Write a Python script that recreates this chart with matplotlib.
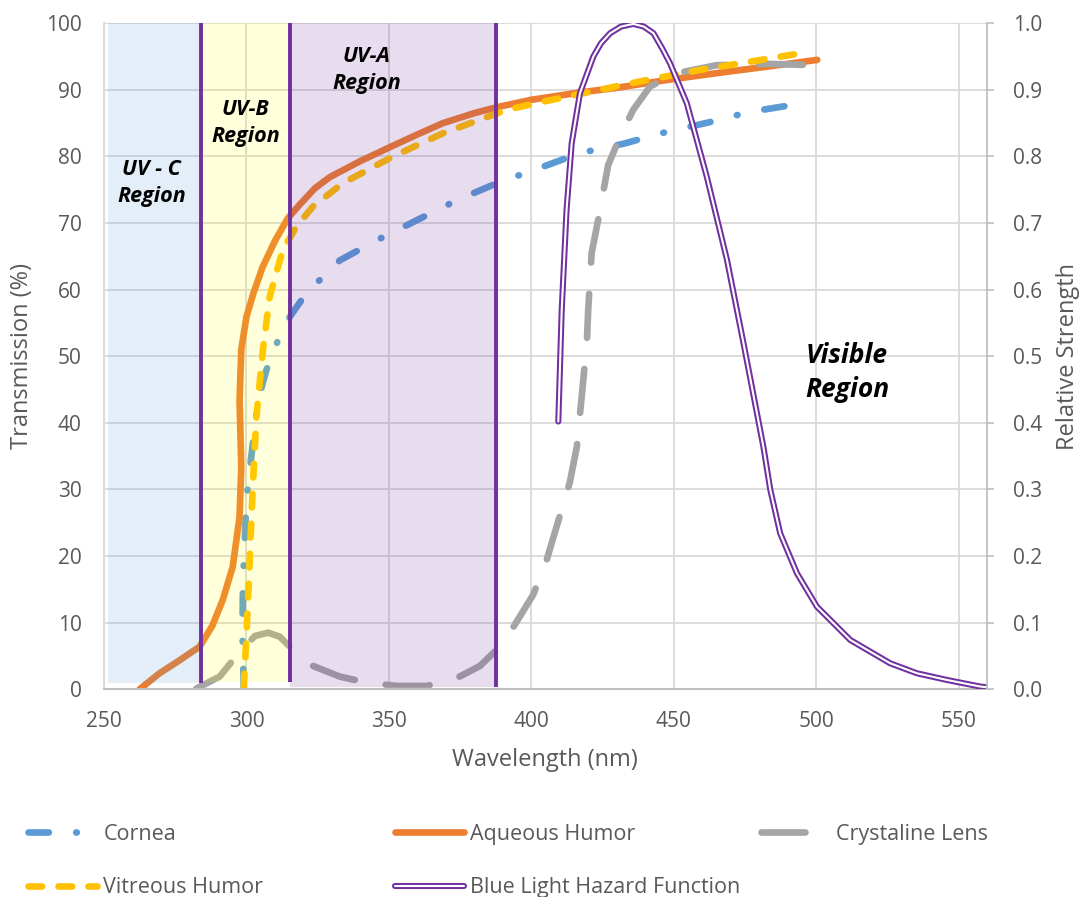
import numpy as np
import matplotlib.pyplot as plt
import matplotlib.patheffects as pe

plt.rcParams['font.family'] = ['Open Sans', 'DejaVu Sans']

# transmission curves (wavelength nm, transmission %)
cornea_wl = [299.1, 298.6, 298.8, 300, 301.7, 304.1, 307, 311.1, 315.2, 321.1, 332.8,
             345.7, 359.7, 373.8, 388, 402.5, 417.1, 432.3, 447.6, 462.2, 476.8, 492.7]
cornea_t = [0, 8.4, 16, 28.4, 34.9, 43.4, 47.9, 52.4, 55.9, 59.5, 64.4,
            67.4, 70.4, 73.4, 76, 78.2, 80.5, 81.9, 83.7, 85.1, 86.7, 87.8]

aqueous_wl = [262.5, 269.5, 276, 283.6, 288, 291.7, 295.2, 297.6, 298.2, 297.8, 297.6,
              298.2, 300, 302.5, 305.7, 310, 314.5, 319, 324, 329.3, 340, 350.4, 360, 369,
              380, 388, 400, 417, 430, 448, 465, 483, 500.4]
aqueous_t = [0, 2.4, 4.2, 6.4, 9.5, 13.4, 18.4, 25.9, 33.4, 40, 43.4,
             51, 55.9, 59.5, 63.4, 67.3, 70.7, 72.9, 75.2, 76.9, 79.3, 81.4, 83.3, 85,
             86.5, 87.4, 88.5, 89.6, 90.3, 91.5, 92.5, 93.5, 94.5]

lens_wl = [282.4, 290.6, 298.2, 303, 307.6, 311.7, 316.4, 322.8, 332.8, 342.2, 352.7,
           363.3, 372.6, 382, 390.2, 400.7, 405.4, 410, 413.5, 416, 417.7, 419.5, 420,
           421.2, 423.5, 427, 431.2, 435.8, 441.7, 451.1, 465.1, 482.7, 500.3]
lens_t = [0.1, 1.9, 5.9, 8, 8.5, 7.9, 5.9, 3.6, 1.9, 1.0, 0.5,
          0.5, 1.4, 3.5, 6.9, 14.2, 19.4, 26, 31, 36.4, 43.9, 51.9, 57,
          65.5, 70.5, 78.7, 83, 87, 90.5, 92.5, 93.7, 93.9, 93.7]

vitreous_wl = [299.1, 300, 300.8, 301.5, 302.3, 303.5, 305.8, 308.2, 312.8, 317.6, 323.4,
               333.9, 351.5, 369.1, 383.1, 391.4, 405, 424, 441, 459.3, 478, 496]
vitreous_t = [0.3, 8, 15.9, 23, 30.9, 40.9, 51, 59, 66, 69.5, 72.5,
              76, 80, 83.5, 85.7, 87, 88.3, 90, 91.5, 93, 94.3, 95.6]

# blue light hazard function (relative strength)
blh_wl = [409.5, 410.7, 412.4, 414.2, 417.1, 421.8, 424.5, 427.7, 431.5, 435.8, 439.5,
          442.9, 446, 448.7, 454.6, 461.6, 468.7, 474.5, 481.5, 483.9, 487.4, 493.3,
          500.3, 512, 526, 535.4, 545.9, 557.7, 560]
blh_s = [0.402, 0.57, 0.72, 0.82, 0.895, 0.95, 0.97, 0.985, 0.995, 0.999, 0.995,
         0.985, 0.962, 0.94, 0.88, 0.77, 0.645, 0.52, 0.364, 0.30, 0.234, 0.174,
         0.124, 0.074, 0.039, 0.024, 0.014, 0.004, 0.003]

# UV bands
band_edges = [251.3, 284, 315.2, 387.6]
band_bottoms = [1.0, 1.1, 0.4]
band_colors = ['#5B9BD5', '#FFFF00', '#7030A0']
band_alpha = [0.165, 0.14, 0.16]
band_names = ['UV - C\nRegion', 'UV-B\nRegion', 'UV-A\nRegion']
band_label_xy = [(266.8, 76.0), (299.8, 85.0), (342.3, 93.0)]

grey_txt = '#595959'

fig = plt.figure(figsize=(10.82, 8.97), dpi=100)
ax = fig.add_axes([0.0961, 0.2316, 0.8161, 0.7425])

lw = 4.8
l_cornea, = ax.plot(cornea_wl, cornea_t, color='#5B9BD5', lw=lw,
                    dashes=[3.05, 4.1, 0.1, 4.1], dash_capstyle='round',
                    solid_capstyle='round', label='Cornea', zorder=2)
l_aq, = ax.plot(aqueous_wl, aqueous_t, color='#ED7D31', lw=lw,
                solid_capstyle='round', label='Aqueous Humor', zorder=2)
l_lens, = ax.plot(lens_wl, lens_t, color='#A5A5A5', lw=lw,
                  dashes=[6.6, 4.7], dash_capstyle='round',
                  label='Crystaline Lens', zorder=2)
l_vit, = ax.plot(vitreous_wl, vitreous_t, color='#FFC000', lw=lw,
                 dashes=[2.05, 2.45], dash_capstyle='round',
                 label='Vitreous Humor', zorder=2.1)

# translucent bands sit over the curves
for i in range(3):
    ax.fill_between([band_edges[i], band_edges[i + 1]], band_bottoms[i], 100,
                    color=band_colors[i], alpha=band_alpha[i], lw=0, zorder=3)
ax.vlines(band_edges[1:], band_bottoms, 100, color='#7030A0', lw=2.8, zorder=4)

for name, (x, y) in zip(band_names, band_label_xy):
    ax.text(x, y, name, ha='center', va='center', fontsize=15.5,
            fontweight='bold', fontstyle='italic', linespacing=1.4, zorder=5)
ax.text(510.9, 47.6, 'Visible\nRegion', ha='center', va='center', fontsize=19,
        fontweight='bold', fontstyle='italic', linespacing=1.35, zorder=5)

ax.set_xlim(250, 560)
ax.set_ylim(0, 100)
ax.set_xticks(np.arange(250, 551, 50))
ax.set_yticks(np.arange(0, 101, 10))
ax.grid(True, color='#D9D9D9', lw=1.3)
ax.set_axisbelow(True)
ax.tick_params(axis='both', length=0, pad=16, labelsize=15, labelcolor=grey_txt)
for s in ['top', 'right']:
    ax.spines[s].set_visible(False)
ax.spines['left'].set_color('#D9D9D9')
ax.spines['left'].set_linewidth(1.3)
ax.spines['bottom'].set_color('#BFBFBF')
ax.spines['bottom'].set_linewidth(1.5)

ax2 = ax.twinx()
l_blh, = ax2.plot(blh_wl, blh_s, color='white', lw=1.5, solid_capstyle='round',
                  solid_joinstyle='round', label='Blue Light Hazard Function',
                  path_effects=[pe.Stroke(linewidth=4.4, foreground='#7030A0'), pe.Normal()])
ax2.set_ylim(0, 1.0)
ax2.set_yticks(np.arange(0, 1.01, 0.1))
ax2.set_yticklabels([f'{v:.1f}' for v in np.arange(0, 1.01, 0.1)])
ax2.tick_params(axis='y', length=5, width=1.2, color='#BFBFBF', pad=14,
                labelsize=15, labelcolor=grey_txt)
for s in ['top', 'left', 'bottom']:
    ax2.spines[s].set_visible(False)
ax2.spines['right'].set_color('#BFBFBF')
ax2.spines['right'].set_linewidth(1.3)

fig.text(22 / 1082, 1 - 356 / 897, 'Transmission (%)', rotation=90, ha='center',
         va='center', fontsize=17, color=grey_txt)
fig.text(1068 / 1082, 1 - 356 / 897, 'Relative Strength', rotation=90, ha='center',
         va='center', fontsize=17, color=grey_txt)
fig.text(545 / 1082, 1 - 760 / 897, 'Wavelength (nm)', ha='center', va='center',
         fontsize=17, color=grey_txt)

# legend columns below the plot
columns = [([l_cornea, l_vit], 28), ([l_aq, l_blh], 395), ([l_lens], 761)]
for handles, xpx in columns:
    fig.legend(handles=handles, loc='upper left', bbox_to_anchor=(xpx / 1082, 1 - 824 / 897),
               frameon=False, fontsize=15.5, handlelength=3.2, handletextpad=0.3,
               labelspacing=1.5, borderpad=0, borderaxespad=0, labelcolor=grey_txt)

fig.savefig('out.png', dpi=100)
